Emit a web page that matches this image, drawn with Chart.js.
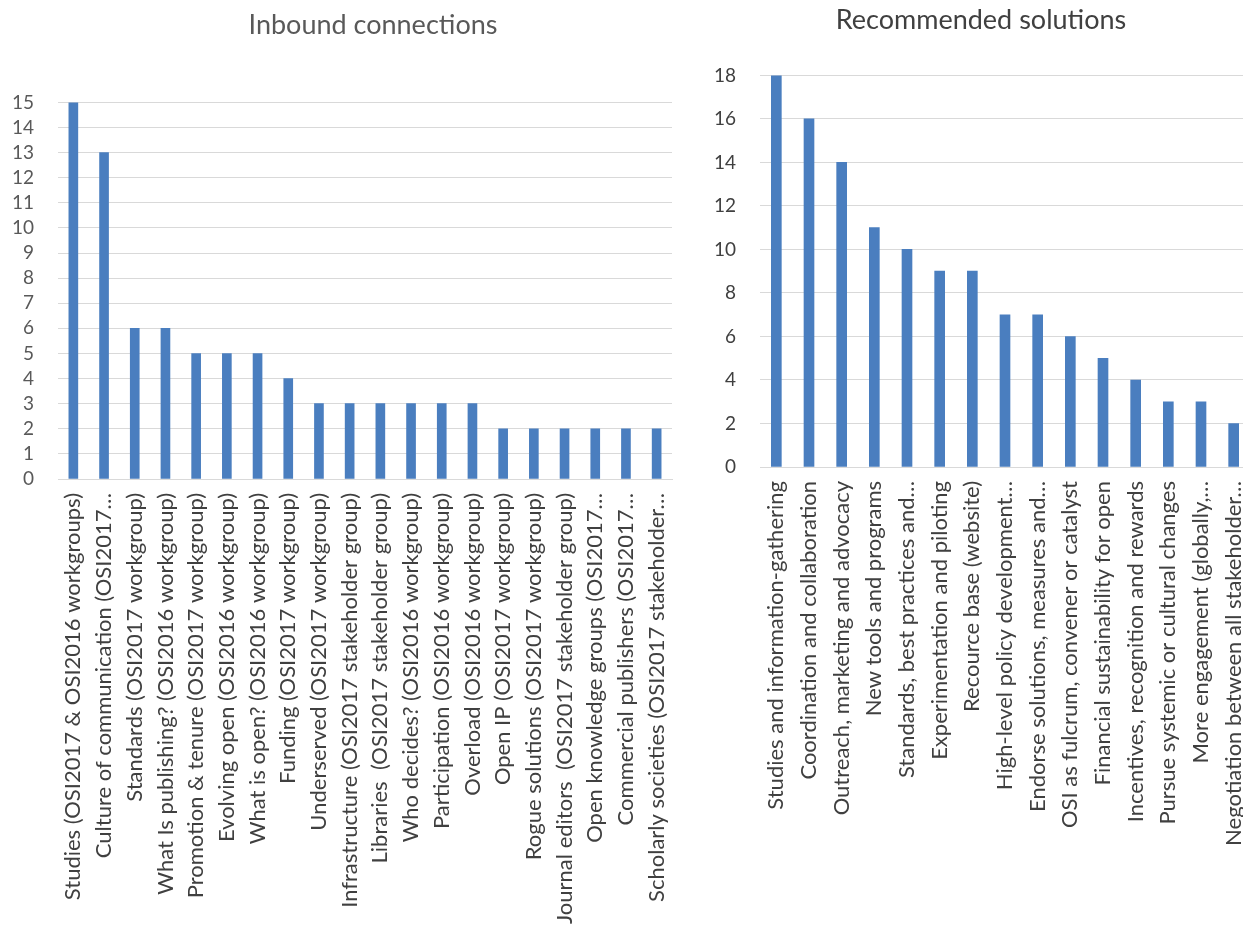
<!DOCTYPE html>
<html>
<head>
<meta charset="utf-8">
<script src="https://cdn.jsdelivr.net/npm/chart.js@4.4.1/dist/chart.umd.min.js"></script>
<style>
  html, body { margin: 0; padding: 0; background: #fff; overflow: hidden; width: 1243px; height: 934px; }
  .box { position: absolute; top: 0; height: 934px; }
  #leftBox { left: 0; width: 746px; }
  #rightBox { left: 690px; width: 560px; }
</style>
</head>
<body>
<div class="box" id="leftBox"><canvas id="inbound"></canvas></div>
<div class="box" id="rightBox"><canvas id="solutions"></canvas></div>
<script>
// Inbound connections
const inboundLabels = [
  'Studies (OSI2017 & OSI2016 workgroups)',
  'Culture of communication (OSI2017\u2026',
  'Standards (OSI2017 workgroup)',
  'What Is publishing? (OSI2016 workgroup)',
  'Promotion & tenure (OSI2017 workgroup)',
  'Evolving open (OSI2016 workgroup)',
  'What is open? (OSI2016 workgroup)',
  'Funding (OSI2017 workgroup)',
  'Underserved (OSI2017 workgroup)',
  'Infrastructure (OSI2017 stakeholder group)',
  'Libraries  (OSI2017 stakeholder group)',
  'Who decides? (OSI2016 workgroup)',
  'Participation (OSI2016 workgroup)',
  'Overload (OSI2016 workgroup)',
  'Open IP (OSI2017 workgroup)',
  'Rogue solutions (OSI2017 workgroup)',
  'Journal editors  (OSI2017 stakeholder group)',
  'Open knowledge groups (OSI2017\u2026',
  'Commercial publishers (OSI2017\u2026',
  'Scholarly societies (OSI2017 stakeholder\u2026'
];
const inboundValues = [15, 13, 6, 6, 5, 5, 5, 4, 3, 3, 3, 3, 3, 3, 2, 2, 2, 2, 2, 2];

// Recommended solutions
const solutionLabels = [
  'Studies and information-gathering',
  'Coordination and collaboration',
  'Outreach, marketing and advocacy',
  'New tools and programs',
  'Standards, best practices and\u2026',
  'Experimentation and piloting',
  'Recource base (website)',
  'High-level policy development\u2026',
  'Endorse solutions, measures and\u2026',
  'OSI as fulcrum, convener or catalyst',
  'Financial sustainability for open',
  'Incentives, recognition and rewards',
  'Pursue systemic or cultural changes',
  'More engagement (globally,\u2026',
  'Negotiation between all stakeholder\u2026'
];
const solutionValues = [18, 16, 14, 11, 10, 9, 9, 7, 7, 6, 5, 4, 3, 3, 2];

const FONT = 'Lato, Calibri, "Open Sans", sans-serif';
const barColor = '#4a7ebf';
const gridColor = '#d9d9d9';

function makeChart(id, title, labels, values, opts) {
  const ctx = document.getElementById(id).getContext('2d');
  return new Chart(ctx, {
    type: 'bar',
    data: {
      labels: labels,
      datasets: [{
        data: values,
        backgroundColor: barColor,
        barThickness: opts.barWidth
      }]
    },
    options: {
      animation: false,
      responsive: true,
      maintainAspectRatio: false,
      layout: { padding: { left: opts.padLeft, right: 0, top: 0, bottom: 0 } },
      plugins: {
        legend: { display: false },
        tooltip: { enabled: false },
        title: {
          display: true,
          text: title,
          color: opts.titleColor,
          font: { family: FONT, size: 27, weight: 'normal' },
          padding: { top: opts.titleTop, bottom: opts.titleBottom }
        }
      },
      scales: {
        x: {
          grid: { display: false },
          border: { color: gridColor },
          ticks: {
            autoSkip: false,
            maxRotation: 90,
            minRotation: 90,
            padding: 6,
            color: '#404040',
            font: { family: FONT, size: 22 }
          },
          afterFit: function(scale) {
            scale.height = opts.xHeight;
            scale.paddingLeft = 0;
            scale.paddingRight = 0;
          }
        },
        y: {
          min: 0,
          max: opts.max,
          grid: { color: gridColor, drawTicks: false },
          border: { display: false },
          ticks: {
            autoSkip: false,
            stepSize: opts.step,
            padding: 24,
            color: opts.yColor,
            font: { family: FONT, size: 19 }
          },
          afterFit: function(scale) { scale.width = opts.yWidth; }
        },
        // empty right-hand strip so the title centres where the original does
        yR: {
          type: 'linear',
          position: 'right',
          display: opts.rightGap > 0,
          grid: { display: false },
          border: { display: false },
          ticks: { display: false },
          afterFit: function(scale) { scale.width = opts.rightGap; }
        }
      }
    }
  });
}

makeChart('inbound', 'Inbound connections', inboundLabels, inboundValues, {
  max: 15, step: 1, barWidth: 9,
  titleTop: 9, titleBottom: 61, titleColor: '#595959',
  xHeight: 455, yWidth: 58, yColor: '#595959',
  padLeft: 0, rightGap: 74
});

makeChart('solutions', 'Recommended solutions', solutionLabels, solutionValues, {
  max: 18, step: 2, barWidth: 10,
  titleTop: 4, titleBottom: 39, titleColor: '#404040',
  xHeight: 467, yWidth: 48, yColor: '#404040',
  padLeft: 22, rightGap: 0
});
</script>
</body>
</html>
